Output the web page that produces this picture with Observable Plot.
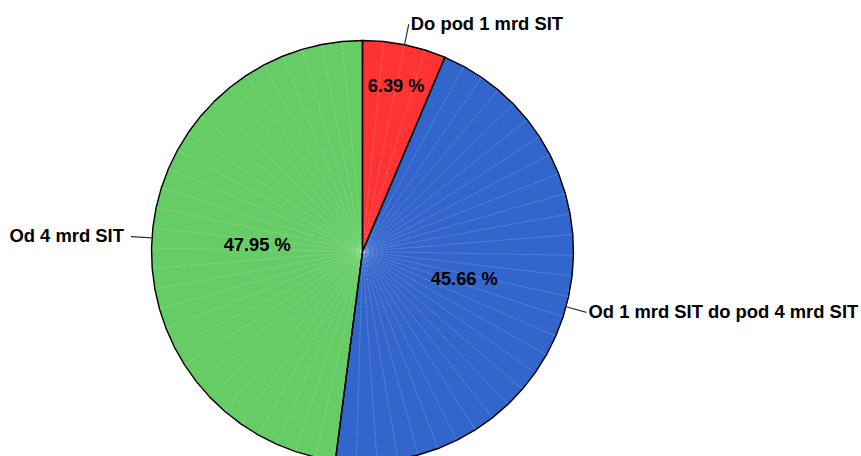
<!DOCTYPE html>
<html>
<head>
<meta charset="utf-8">
<script src="https://cdn.jsdelivr.net/npm/d3@7"></script>
<script src="https://cdn.jsdelivr.net/npm/@observablehq/plot@0.6"></script>
<style>
  html, body { margin: 0; padding: 0; background: #fff; }
  svg { font-family: "Liberation Sans", Arial, sans-serif; display: block; }
</style>
</head>
<body>
<div id="chart"></div>
<script>
const categories = ["Do pod 1 mrd SIT", "Od 1 mrd SIT do pod 4 mrd SIT", "Od 4 mrd SIT"];
const shares = [6.39, 45.66, 47.95];
const percentLabels = ["6.39 %", "45.66 %", "47.95 %"];
const colors = ["#ff3333", "#3366cc", "#66cc66"];

const W = 861, H = 456, cx = 362, cy = 251, R = 211;
const total = d3.sum(shares);
const pt = (a, r) => ({x: r * Math.sin(a), y: r * Math.cos(a)});

let start = 0;
const slices = categories.map((c, i) => {
  const a0 = start, a1 = start + shares[i] / total * 2 * Math.PI;
  start = a1;
  return {cat: c, a0, a1, mid: (a0 + a1) / 2, i};
});

const outline = [], tris = [], pctData = [], leaders = [], outer = [];
slices.forEach(s => {
  const n = Math.max(1, Math.round((s.a1 - s.a0) / (5.6 * Math.PI / 180)));
  outline.push({cat: s.cat, x: 0, y: 0});
  for (let k = 0; k <= n; k++) {
    const a = s.a0 + (s.a1 - s.a0) * k / n;
    outline.push({cat: s.cat, ...pt(a, 1)});
  }
  for (let k = 1; k < n; k++) {
    const a = s.a0 + (s.a1 - s.a0) * k / n;
    tris.push({id: s.cat + k, x: 0, y: 0});
    tris.push({id: s.cat + k, ...pt(a, 1)});
  }
  const lr = shares[s.i] < 10 ? 0.8 : 0.5;
  pctData.push({text: percentLabels[s.i], ...pt(s.mid, lr)});
  const p1 = pt(s.mid, 1), p2 = pt(s.mid, 1.1);
  leaders.push({x1: p1.x, y1: p1.y, x2: p2.x, y2: p2.y});
  outer.push({text: s.cat, side: Math.sin(s.mid) >= 0 ? "right" : "left", ...p2});
});

const chart = Plot.plot({
  width: W, height: H,
  marginTop: 0, marginRight: 0, marginBottom: 0, marginLeft: 0,
  x: {domain: [-cx / R, (W - cx) / R], axis: null},
  y: {domain: [-(H - cy) / R, cy / R], axis: null},
  color: {domain: categories, range: colors},
  marks: [
    Plot.line(outline, {x: "x", y: "y", z: "cat", fill: "cat", stroke: "none", curve: "linear-closed"}),
    Plot.line(tris, {x: "x", y: "y", z: "id", stroke: "white", strokeOpacity: 0.3, strokeWidth: 0.6, strokeDasharray: "3,1.5"}),
    Plot.line(outline, {x: "x", y: "y", z: "cat", stroke: "black", strokeWidth: 1.4, fill: "none", curve: "linear-closed", strokeLinejoin: "round"}),
    Plot.link(leaders, {x1: "x1", y1: "y1", x2: "x2", y2: "y2", stroke: "#333", strokeWidth: 1.2}),
    Plot.text(pctData, {x: "x", y: "y", text: "text", fontSize: 18.3, fontWeight: "bold", fill: "black"}),
    Plot.text(outer.filter(d => d.side === "right"), {x: "x", y: "y", text: "text", textAnchor: "start", dx: 2, fontSize: 18.4, fontWeight: "bold", fill: "black"}),
    Plot.text(outer.filter(d => d.side === "left"), {x: "x", y: "y", text: "text", textAnchor: "end", dx: -7, fontSize: 18.4, fontWeight: "bold", fill: "black"})
  ]
});
document.getElementById("chart").appendChild(chart);
</script>
</body>
</html>
